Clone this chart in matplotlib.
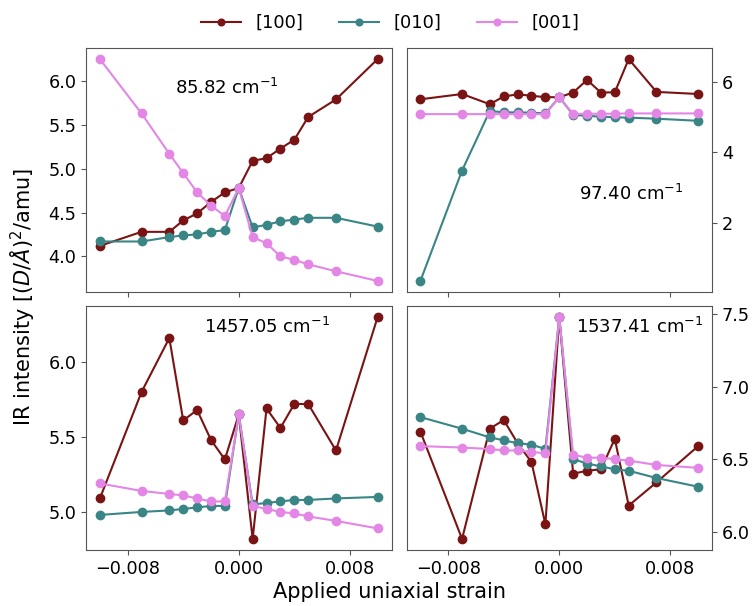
import matplotlib
import matplotlib.pyplot as plt

matplotlib.use('Agg')

strain = [-0.010, -0.007, -0.005, -0.004, -0.003, -0.002, -0.001, 0.0,
          0.001, 0.002, 0.003, 0.004, 0.005, 0.007, 0.010]
directions = ['[100]', '[010]', '[001]']
colors = ['#7a1414', '#3a8585', '#e386e6']

# mode 85.82 cm-1
m1_100 = [4.12, 4.28, 4.28, 4.41, 4.49, 4.62, 4.73, 4.78, 5.09, 5.12, 5.23, 5.33, 5.59, 5.79, 6.25]
m1_010 = [4.17, 4.17, 4.22, 4.24, 4.25, 4.28, 4.30, 4.78, 4.33, 4.36, 4.40, 4.42, 4.44, 4.44, 4.34]
m1_001 = [6.25, 5.63, 5.17, 4.95, 4.73, 4.58, 4.46, 4.78, 4.22, 4.15, 4.00, 3.96, 3.91, 3.83, 3.72]

# mode 97.40 cm-1
m2_100 = [5.50, 5.65, 5.36, 5.58, 5.64, 5.60, 5.56, 5.56, 5.69, 6.05, 5.69, 5.70, 6.64, 5.71, 5.65]
m2_010 = [0.35, 3.48, 5.17, 5.13, 5.13, 5.12, 5.10, 5.56, 5.06, 5.03, 5.01, 4.99, 4.98, 4.95, 4.89]
m2_001 = [5.08, 5.08, 5.08, 5.08, 5.08, 5.08, 5.08, 5.56, 5.08, 5.09, 5.09, 5.09, 5.10, 5.10, 5.10]

# mode 1457.05 cm-1
m3_100 = [5.09, 5.80, 6.16, 5.61, 5.68, 5.48, 5.35, 5.65, 4.82, 5.69, 5.56, 5.72, 5.72, 5.41, 6.30]
m3_010 = [4.98, 5.00, 5.01, 5.02, 5.03, 5.04, 5.04, 5.65, 5.05, 5.06, 5.07, 5.08, 5.08, 5.09, 5.10]
m3_001 = [5.19, 5.14, 5.12, 5.11, 5.09, 5.07, 5.07, 5.65, 5.04, 5.02, 5.00, 4.99, 4.97, 4.94, 4.89]

# mode 1537.41 cm-1
m4_100 = [6.69, 5.95, 6.71, 6.77, 6.61, 6.48, 6.05, 7.48, 6.40, 6.42, 6.43, 6.64, 6.18, 6.34, 6.59]
m4_010 = [6.79, 6.71, 6.65, 6.63, 6.61, 6.60, 6.57, 7.48, 6.50, 6.47, 6.45, 6.43, 6.42, 6.37, 6.31]
m4_001 = [6.59, 6.58, 6.57, 6.56, 6.56, 6.55, 6.54, 7.48, 6.53, 6.51, 6.51, 6.50, 6.49, 6.46, 6.44]

modes = [
    (r'85.82 cm$^{-1}$', [m1_100, m1_010, m1_001], (0.29, 0.835)),
    (r'97.40 cm$^{-1}$', [m2_100, m2_010, m2_001], (0.564, 0.40)),
    (r'1457.05 cm$^{-1}$', [m3_100, m3_010, m3_001], (0.386, 0.914)),
    (r'1537.41 cm$^{-1}$', [m4_100, m4_010, m4_001], (0.554, 0.914)),
]

fig, axes = plt.subplots(2, 2, figsize=(7.53, 6.06), dpi=100, sharex=True)
fig.subplots_adjust(left=0.1142, right=0.9456, top=0.9208, bottom=0.0924,
                    wspace=0.049, hspace=0.057)

for i, (ax, (label, series, pos)) in enumerate(zip(axes.flat, modes)):
    for y, c, d in zip(series, colors, directions):
        ax.plot(strain, y, '-o', color=c, lw=1.5, ms=6, label=d)
    ax.text(pos[0], pos[1], label, transform=ax.transAxes, fontsize=13,
            ha='left', va='center')
    for s in ax.spines.values():
        s.set_color('#555555')
    ax.tick_params(labelsize=12.7, color='#555555')
    if i % 2 == 1:
        ax.yaxis.tick_right()

axes[0, 0].set_yticks([4.0, 4.5, 5.0, 5.5, 6.0])
axes[0, 1].set_yticks([2, 4, 6])
axes[1, 0].set_yticks([5.0, 5.5, 6.0])
axes[1, 1].set_yticks([6.0, 6.5, 7.0, 7.5])
axes[1, 0].set_xticks([-0.008, 0.0, 0.008])

handles, labels = axes[0, 0].get_legend_handles_labels()
fig.legend(handles, labels, loc='center', ncol=3, frameon=False, fontsize=13,
           bbox_to_anchor=(0.518, 0.962), columnspacing=2.0, handlelength=2.2,
           markerscale=0.8)

fig.text(0.517, 0.023, 'Applied uniaxial strain', ha='center', va='center', fontsize=15)
fig.text(0.03, 0.51, r'IR intensity [$(D/\AA)^2$/amu]', ha='center', va='center',
         rotation=90, fontsize=15)

plt.savefig('out.png', dpi=100)
